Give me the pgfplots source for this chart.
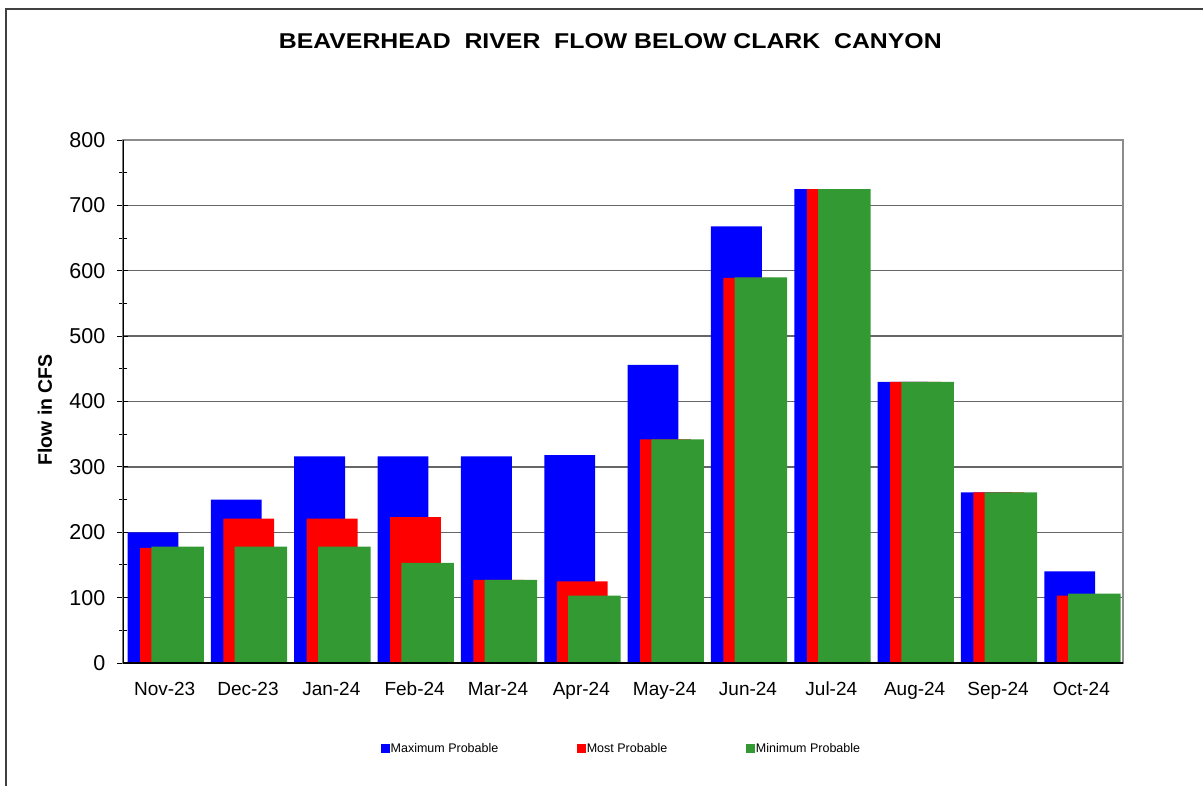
\documentclass[border=0pt]{standalone}
\usepackage{fontspec}
\setmainfont{Liberation Sans}
\usepackage{pgfplots}
\pgfplotsset{compat=1.18}

\definecolor{maxblue}{RGB}{0,0,255}
\definecolor{mostred}{RGB}{255,0,0}
\definecolor{mingreen}{RGB}{51,153,51}

\begin{document}
\begin{tikzpicture}
  % page = 1203 x 786 px, origin at lower left of plot area
  \path[use as bounding box] (-123bp,-123bp) rectangle (1080bp,663bp);
  \draw[line width=2bp, black!75] (-117bp,-130bp) -- (-117bp,654bp) -- (1090bp,654bp);

  \node[anchor=base, xscale=1.16, font=\fontsize{21.4bp}{24bp}\selectfont\bfseries]
    at (487.3bp,614.7bp) {BEAVERHEAD\ \ RIVER\ \ FLOW BELOW CLARK\ \ CANYON};

  \begin{axis}[
    scale only axis,
    width=1000bp, height=523bp,
    xmin=-0.5, xmax=11.5,
    ymin=0, ymax=800,
    ytick={0,100,...,800},
    minor y tick num=1,
    xtick={0,...,11},
    xticklabels={Nov-23,Dec-23,Jan-24,Feb-24,Mar-24,Apr-24,May-24,Jun-24,Jul-24,Aug-24,Sep-24,Oct-24},
    major x tick style={draw=none},
    extra x ticks={-0.5,0.5,...,11.5},
    extra x tick labels={},
    extra tick style={grid=none, tick align=outside, major tick length=5bp},
    xtick pos=bottom, ytick pos=left,
    tick align=center,
    major tick length=11bp,
    minor tick length=8bp,
    tick style={black, line width=1bp},
    ymajorgrids,
    major grid style={gray!80!black, line width=1.3bp},
    axis line style={gray!90, line width=2.5bp},
    /pgf/number format/assume math mode=true,
    yticklabel style={anchor=east, inner sep=0pt, xshift=-12bp,
      font=\fontsize{21.5bp}{24bp}\selectfont},
    xticklabel style={anchor=base, inner sep=0pt, yshift=-21.3bp,
      font=\fontsize{19bp}{22bp}\selectfont},
    ylabel={Flow in CFS},
    ylabel style={at={(axis description cs:-0.078,0.484)}, anchor=center,
      font=\fontsize{19.5bp}{22bp}\selectfont\bfseries},
    ybar,
    legend columns=3,
    legend image code/.code={\fill[#1] (0bp,-4.5bp) rectangle (9bp,4.5bp);},
    legend style={draw=none, fill=none, inner sep=0pt,
      at={(axis description cs:0.2577,-0.1635)}, anchor=west,
      font=\fontsize{12.5bp}{14bp}\selectfont,
      nodes={inner xsep=0.75bp, inner ysep=0pt},
      /tikz/every even column/.append style={column sep=78bp}},
  ]
    \addplot[fill=maxblue, draw=none, bar width=0.61, bar shift=-0.14] coordinates {
      (0,200) (1,250) (2,316) (3,316) (4,316) (5,318)
      (6,456) (7,668) (8,725) (9,430) (10,261) (11,140)
    };
    \addlegendentry{Maximum\ Probable}
    \addplot[fill=mostred, draw=none, bar width=0.61, bar shift=0.01] coordinates {
      (0,176) (1,221) (2,221) (3,223) (4,127) (5,125)
      (6,342) (7,589) (8,725) (9,430) (10,261) (11,103)
    };
    \addlegendentry{Most Probable}
    \addplot[fill=mingreen, draw=none, bar width=0.63, bar shift=0.155] coordinates {
      (0,178) (1,178) (2,178) (3,153) (4,127) (5,103)
      (6,342) (7,590) (8,725) (9,430) (10,261) (11,106)
    };
    \addlegendentry{Minimum\ Probable}
    \draw[black, line width=1.3bp] (rel axis cs:0,1) -- (rel axis cs:0,0) -- (rel axis cs:1,0);
  \end{axis}
\end{tikzpicture}
\end{document}
